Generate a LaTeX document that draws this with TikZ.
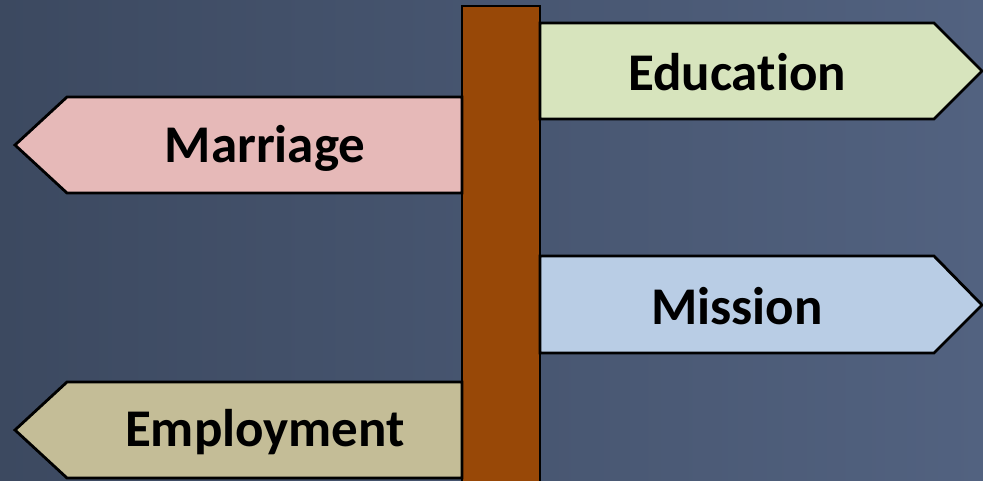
\documentclass[tikz,border=0pt]{standalone}
\usepackage{fontspec}
\setmainfont[Ligatures=NoCommon]{Carlito}
\definecolor{bgL}{RGB}{60,73,96}
\definecolor{bgR}{RGB}{82,98,128}
\definecolor{edu}{RGB}{215,228,189}
\definecolor{mar}{RGB}{230,185,184}
\definecolor{mis}{RGB}{185,205,229}
\definecolor{emp}{RGB}{196,189,151}
\definecolor{pole}{RGB}{152,72,7}
\tikzset{
  signbox/.style={draw=black, line width=2.8pt, line join=miter},
  signtext/.style={font=\bfseries\fontsize{53}{60}\selectfont, text=black, inner sep=0pt}
}
\begin{document}
\begin{tikzpicture}[x=1pt,y=-1pt]
\useasboundingbox (0,0) rectangle (983,480);
\shade[left color=bgL, right color=bgR] (0,0) rectangle (983,480);
% pole
\draw[signbox, fill=pole] (462,6) rectangle (540,484);
% Education (right)
\draw[signbox, fill=edu] (540,23) -- (934,23) -- (982,71) -- (934,119) -- (540,119) -- cycle;
\node[signtext] (education) at (737,72) {Education};
% Mission (right)
\draw[signbox, fill=mis] (540,256) -- (934,256) -- (982,305) -- (934,353) -- (540,353) -- cycle;
\node[signtext] (mission) at (737,306) {Mission};
% Marriage (left)
\draw[signbox, fill=mar] (462,97) -- (67,97) -- (15,145) -- (67,193) -- (462,193) -- cycle;
\node[signtext] (marriage) at (265,148) {Marriage};
% Employment (left)
\draw[signbox, fill=emp] (462,382) -- (67,382) -- (15,430) -- (67,478) -- (462,478) -- cycle;
\node[signtext] (employment) at (265,432) {Employment};
\end{tikzpicture}
\end{document}
